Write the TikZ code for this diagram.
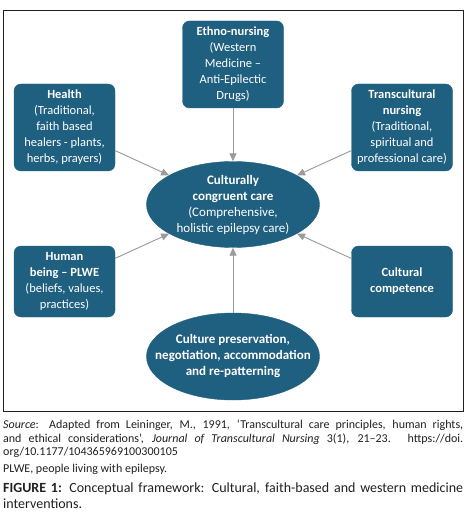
\documentclass[tikz,border=0pt]{standalone}
\usepackage{fontspec}
\setmainfont{Carlito}
\usetikzlibrary{shapes.geometric, arrows.meta}
\definecolor{boxteal}{RGB}{31,95,128}
\definecolor{arrowgray}{RGB}{155,155,155}
\definecolor{captext}{RGB}{35,31,32}

\begin{document}
\begin{tikzpicture}[
  x=1pt, y=-1pt,
  concept/.style={draw=boxteal, fill=boxteal, rounded corners=7pt, text=white, align=center, minimum width=101pt, inner sep=1.5pt, font=\fontsize{12.5}{16}\selectfont},
  tallbox/.style={concept, minimum height=87pt},
  shortbox/.style={concept, minimum height=71pt},
  hub/.style={draw=boxteal, fill=boxteal, ellipse, text=white, align=center, minimum width=173pt, minimum height=86pt, inner xsep=-22pt, inner ysep=-4pt, font=\fontsize{13}{16}\selectfont},
  arrow/.style={-{Triangle[length=8pt, width=7pt]}, draw=arrowgray, fill=arrowgray, line width=0.9pt},
  caption/.style={text=captext, inner sep=0pt, anchor=north west}
]
\useasboundingbox (0,0) rectangle (474,518);

% Frame
\draw[captext, line width=0.8pt] (3,10) rectangle (463,411);

% Nodes
\node[tallbox] (ethno) at (233,64.5) {\textbf{Ethno-nursing}\\(Western\\Medicine --\\Anti-Epilectic\\Drugs)};
\node[tallbox] (health) at (64.5,127.5) {\textbf{Health}\\(Traditional,\\faith based\\healers - plants,\\herbs, prayers)};
\node[tallbox] (transc) at (402,127.5) {\textbf{Transcultural}\\\textbf{nursing}\\(Traditional,\\spiritual and\\professional care)};
\node[hub] (care) at (233,204.5) {\textbf{Culturally}\\\textbf{congruent care}\\(Comprehensive,\\holistic epilepsy care)};
\node[shortbox] (human) at (64.5,281.5) {\textbf{Human}\\\textbf{being -- PLWE}\\(beliefs, values,\\practices)};
\node[shortbox] (competence) at (402,281.5) {\textbf{Cultural}\\\textbf{competence}};
\node[hub, minimum height=87pt] (preserve) at (233,356.5) {\textbf{Culture preservation,}\\\textbf{negotiation, accommodation}\\\textbf{and re-patterning}};

% Arrows
\draw[arrow] (ethno) -- (care);
\draw[arrow] (health) -- (care);
\draw[arrow] (transc) -- (care);
\draw[arrow] (human) -- (care);
\draw[arrow] (competence) -- (care);
\draw[arrow] (preserve) -- (care);

% Caption
\node[caption, text width=460pt, align=justify, font=\fontsize{12}{13.3}\selectfont] (source) at (3,420)
  {\hyphenpenalty=10000 \textit{Source}: Adapted from Leininger, M., 1991, ‘Transcultural care principles, human rights,\linebreak and ethical considerations’, \textit{Journal of Transcultural Nursing} 3(1), 21–23. https://doi.\linebreak org/10.1177/104365969100300105};
\node[caption, font=\fontsize{12}{13.3}\selectfont] (plwe) at (3,464) {PLWE, people living with epilepsy.};
\node[caption, text width=460pt, align=justify, font=\fontsize{14}{15.7}\selectfont] (figcap) at (3,482.5)
  {\hyphenpenalty=10000 \textbf{FIGURE 1:} Conceptual framework: Cultural, faith-based and western medicine\linebreak interventions.};

\end{tikzpicture}
\end{document}
